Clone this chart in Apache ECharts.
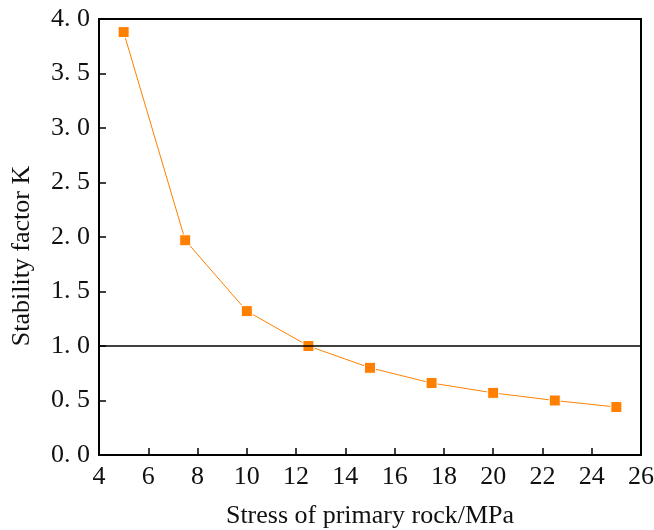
<!DOCTYPE html>
<html><head><meta charset="utf-8">
<script src="https://cdn.jsdelivr.net/npm/echarts@6/dist/echarts.min.js"></script>
<style>html,body{margin:0;padding:0;background:#fff}#c{width:654px;height:530px}</style>
</head><body><div id="c"></div>
<script>
const stress = [5, 7.5, 10, 12.5, 15, 17.5, 20, 22.5, 25];
const kValues = [3.88, 1.97, 1.32, 1.0, 0.80, 0.66, 0.57, 0.50, 0.44];
const refLine = 1.0;
const font = '"Liberation Serif", "DejaVu Serif", serif';
const chart = echarts.init(document.getElementById('c'));
chart.setOption({
  animation: false,
  grid: {left: 99, right: 13, top: 19, bottom: 75, containLabel: false, outerBoundsMode: 'none'},
  xAxis: {
    type: 'value', min: 4, max: 26, interval: 2,
    name: 'Stress of primary rock/MPa', nameLocation: 'middle', nameGap: 48,
    nameTextStyle: {fontFamily: font, fontSize: 26, color: '#111'},
    axisLine: {show: true, onZero: false, lineStyle: {color: '#000', width: 2}},
    axisTick: {show: true, inside: true, length: 7, lineStyle: {color: '#000', width: 1.5}},
    axisLabel: {fontFamily: font, fontSize: 26, color: '#111', margin: 9},
    splitLine: {show: false}
  },
  yAxis: {
    type: 'value', min: 0, max: 4, interval: 0.5,
    name: 'Stability factor K', nameLocation: 'middle', nameGap: 64,
    nameTextStyle: {fontFamily: font, fontSize: 26, color: '#111', padding: [0, 38, 0, 0]},
    axisLine: {show: true, lineStyle: {color: '#000', width: 2}},
    axisTick: {show: true, inside: true, length: 7, lineStyle: {color: '#000', width: 1.5}},
    axisLabel: {fontFamily: font, fontSize: 26, color: '#111', margin: 9,
      formatter: v => v.toFixed(1).replace('.', '. ')},
    splitLine: {show: false}
  },
  series: [{
    type: 'line', data: stress.map((x, i) => [x, kValues[i]]),
    smooth: false, symbol: 'rect', symbolSize: 11,
    itemStyle: {color: '#FF8000', borderColor: '#fff', borderWidth: 1},
    lineStyle: {color: '#FF8000', width: 1},
    markLine: {silent: true, symbol: 'none', label: {show: false},
      lineStyle: {color: '#000', width: 1.5, type: 'solid'},
      data: [{yAxis: refLine}]}
  }],
  graphic: [{type: 'rect', shape: {x: 99, y: 19, width: 542, height: 436},
    style: {fill: 'none', stroke: '#000', lineWidth: 2}, silent: true, z: 10}]
});
</script></body></html>
